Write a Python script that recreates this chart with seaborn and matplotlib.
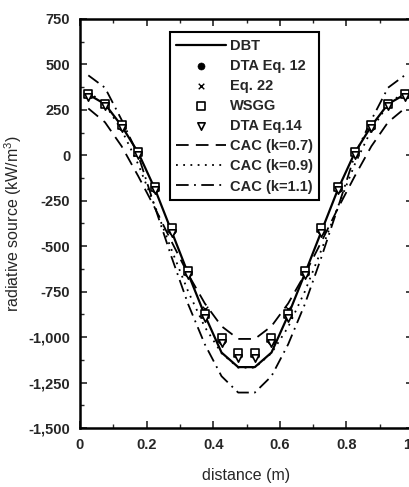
import matplotlib
matplotlib.use("Agg")
import matplotlib.pyplot as plt
import seaborn as sns
import pandas as pd
from matplotlib.ticker import FuncFormatter, MultipleLocator

# ---- data ----
distance = [0.025, 0.075, 0.125, 0.175, 0.225, 0.275, 0.325, 0.375, 0.425, 0.475,
            0.525, 0.575, 0.625, 0.675, 0.725, 0.775, 0.825, 0.875, 0.925, 0.975]

dbt = [335, 282, 162, 14, -185, -418, -652, -880, -1085, -1165,
       -1165, -1085, -880, -652, -418, -185, 14, 162, 282, 335]
cac_07 = [258, 182, 50, -115, -290, -475, -655, -815, -940, -1010,
          -1010, -940, -815, -655, -475, -290, -115, 50, 182, 258]
cac_09 = [350, 280, 140, -50, -280, -520, -750, -945, -1088, -1168,
          -1168, -1088, -945, -750, -520, -280, -50, 140, 280, 350]
cac_11 = [440, 372, 195, 0, -285, -560, -820, -1040, -1215, -1305,
          -1305, -1215, -1040, -820, -560, -285, 0, 195, 372, 440]

dta_eq12 = [330, 280, 158, 12, -185, -415, -650, -880, -1020, -1100,
            -1100, -1020, -880, -650, -415, -185, 12, 158, 280, 330]
eq22 = [330, 282, 160, 15, -180, -410, -645, -845, -1015, -1100,
        -1100, -1015, -845, -645, -410, -180, 15, 160, 282, 330]
wsgg = [335, 285, 165, 20, -172, -400, -638, -875, -1005, -1085,
        -1085, -1005, -875, -638, -400, -172, 20, 165, 285, 335]
dta_eq14 = [322, 272, 150, 4, -192, -425, -660, -893, -1035, -1115,
            -1115, -1035, -893, -660, -425, -192, 4, 150, 272, 322]

y_ticks = [750, 500, 250, 0, -250, -500, -750, -1000, -1250, -1500]
x_ticks = [0, 0.2, 0.4, 0.6, 0.8, 1.0]

df = pd.DataFrame({"distance": distance, "DBT": dbt, "CAC07": cac_07, "CAC09": cac_09,
                   "CAC11": cac_11, "DTA12": dta_eq12, "EQ22": eq22, "WSGG": wsgg,
                   "DTA14": dta_eq14})

sns.set_style("ticks")
plt.rcParams["font.family"] = ["Liberation Sans", "DejaVu Sans"]
plt.rcParams["mathtext.default"] = "regular"

fig = plt.figure(figsize=(4.10, 4.87), dpi=100)
ax = fig.add_axes([80 / 410, 59 / 487, 333 / 410, 409 / 487])

lw = 1.3
sns.lineplot(data=df, x="distance", y="DBT", ax=ax, color="black", lw=1.6,
             linestyle="-", label="DBT", sort=False)
sns.lineplot(data=df, x="distance", y="CAC07", ax=ax, color="black", lw=lw,
             linestyle=(0, (7, 4)), label="CAC (k=0.7)", sort=False)
sns.lineplot(data=df, x="distance", y="CAC09", ax=ax, color="black", lw=lw,
             linestyle=(0, (1, 3)), label="CAC (k=0.9)", sort=False)
sns.lineplot(data=df, x="distance", y="CAC11", ax=ax, color="black", lw=lw,
             linestyle=(0, (7, 3, 1, 3)), label="CAC (k=1.1)", sort=False)

sns.scatterplot(data=df, x="distance", y="DTA12", ax=ax, marker="o", s=26,
                color="black", edgecolor="black", label="DTA Eq. 12", zorder=5)
sns.scatterplot(data=df, x="distance", y="EQ22", ax=ax, marker="x", s=16,
                color="black", linewidth=1.0, label="Eq. 22", zorder=6)
sns.scatterplot(data=df, x="distance", y="WSGG", ax=ax, marker="s", s=26,
                facecolor="white", edgecolor="black", linewidth=1.2,
                label="WSGG", zorder=6)
sns.scatterplot(data=df, x="distance", y="DTA14", ax=ax, marker="v", s=28,
                facecolor="white", edgecolor="black", linewidth=1.2,
                label="DTA Eq.14", zorder=6)

ax.set_xlim(0, 1.0)
ax.set_ylim(-1500, 750)
ax.set_xticks(x_ticks)
ax.set_yticks(y_ticks)
ax.xaxis.set_minor_locator(MultipleLocator(0.1))
ax.yaxis.set_minor_locator(MultipleLocator(125))
ax.xaxis.set_major_formatter(FuncFormatter(lambda v, p: "0" if v == 0 else f"{v:.1f}"))
ax.yaxis.set_major_formatter(FuncFormatter(lambda v, p: f"{v:,.0f}"))
ax.tick_params(which="major", direction="in", length=5, width=1.2,
               labelsize=10.5, pad=7, top=True, right=True)
ax.tick_params(which="minor", direction="in", length=3, width=1.0, top=True, right=True)
for lab in ax.get_xticklabels() + ax.get_yticklabels():
    lab.set_fontweight("bold")
for sp in ax.spines.values():
    sp.set_linewidth(1.8)
    sp.set_color("black")

ax.set_xlabel("distance (m)", fontsize=11.5, labelpad=12)
ax.set_ylabel("radiative source (kW/m$^3$)", fontsize=11.5, labelpad=3)

handles, labels = ax.get_legend_handles_labels()
order = ["DBT", "DTA Eq. 12", "Eq. 22", "WSGG", "DTA Eq.14",
         "CAC (k=0.7)", "CAC (k=0.9)", "CAC (k=1.1)"]
hmap = dict(zip(labels, handles))
leg = ax.legend([hmap[k] for k in order], order, loc="upper left",
                bbox_to_anchor=(0.27, 0.968), frameon=True, fancybox=False,
                edgecolor="black", framealpha=1, handlelength=3.4,
                handletextpad=0.25, labelspacing=0.42, borderpad=0.45,
                borderaxespad=0, prop={"size": 10.5, "weight": "bold"})
leg.get_frame().set_linewidth(1.5)

fig.savefig("out.png", dpi=100)
